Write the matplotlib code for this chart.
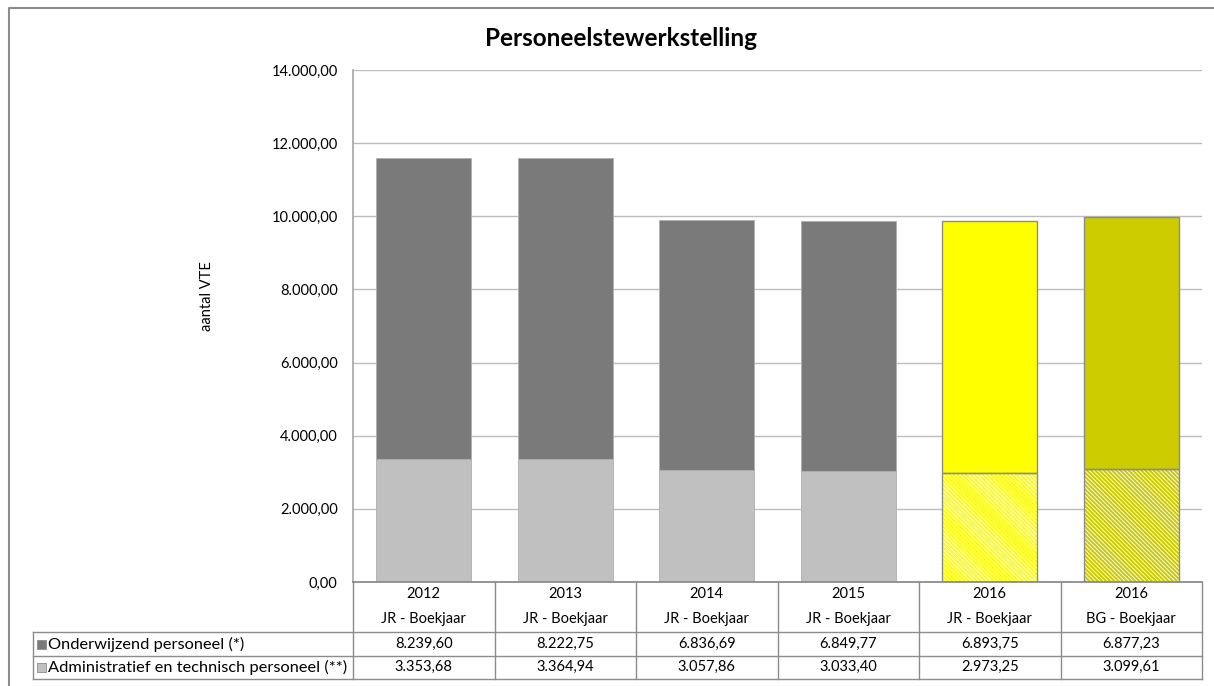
import numpy as np
import matplotlib
matplotlib.use("Agg")
from matplotlib import pyplot as plt

# data
years = ["2012", "2013", "2014", "2015", "2016", "2016"]
kinds = ["JR - Boekjaar", "JR - Boekjaar", "JR - Boekjaar", "JR - Boekjaar", "JR - Boekjaar", "BG - Boekjaar"]
onderwijzend = [8239.60, 8222.75, 6836.69, 6849.77, 6893.75, 6877.23]
administratief = [3353.68, 3364.94, 3057.86, 3033.40, 2973.25, 3099.61]
series_names = ["Onderwijzend personeel (*)", "Administratief en technisch personeel (**)"]

top_colors = ["#7a7a7a", "#7a7a7a", "#7a7a7a", "#7a7a7a", "#ffff00", "#cccc00"]
bottom_colors = ["#c0c0c0", "#c0c0c0", "#c0c0c0", "#c0c0c0", "#ffff00", "#cccc00"]
hatched = [False, False, False, False, True, True]

plt.rcParams['font.family'] = ['Lato', 'DejaVu Sans']
plt.rcParams['hatch.linewidth'] = 1.5

W, H = 1214, 686
fig = plt.figure(figsize=(W / 100, H / 100), dpi=100)


def nl(v):
    s = f"{v:,.2f}"
    return s.replace(",", "X").replace(".", ",").replace("X", ".")


# plot area in pixels
L, R, T, B = 353, 1202, 70, 582
ax = fig.add_axes([L / W, 1 - B / H, (R - L) / W, (B - T) / H])

n = len(years)
x = np.arange(n)
bw = 0.67
for i in range(n):
    if hatched[i]:
        ax.bar(x[i], administratief[i], bw, color="white", edgecolor=bottom_colors[i],
               hatch="\\" * 8, linewidth=0, zorder=3)
        ax.bar(x[i], administratief[i], bw, fill=False, edgecolor="#8c8c8c", linewidth=1, zorder=4)
        ax.bar(x[i], onderwijzend[i], bw, bottom=administratief[i], color=top_colors[i],
               edgecolor="#8c8c8c", linewidth=1, zorder=3)
    else:
        ax.bar(x[i], administratief[i], bw, color=bottom_colors[i], edgecolor="#b0b0b0", linewidth=0.6, zorder=3)
        ax.bar(x[i], onderwijzend[i], bw, bottom=administratief[i], color=top_colors[i],
               edgecolor="#b0b0b0", linewidth=0.6, zorder=3)

ax.set_xlim(-0.5, n - 0.5)
ax.set_ylim(0, 14000)
ax.set_yticks(np.arange(0, 14001, 2000))
ax.set_yticklabels([nl(v) for v in np.arange(0, 14001, 2000)], fontsize=10.5)
ax.tick_params(axis="y", length=0, pad=11)
ax.set_xticks([])
ax.grid(axis="y", color="#bdbdbd", linewidth=1, zorder=0)
for s in ["top", "right", "bottom"]:
    ax.spines[s].set_visible(False)
ax.spines["left"].set_color("#a6a6a6")
ax.spines["left"].set_linewidth(1.2)

# overlay for table, title, frame (pixel coordinates)
ov = fig.add_axes([0, 0, 1, 1], zorder=5)
ov.set_xlim(0, W)
ov.set_ylim(H, 0)
ov.axis("off")
ov.patch.set_alpha(0)

# chart frame
ov.plot([9, 9, W], [H, 8, 8], color="#8c8c8c", lw=1.5)

ov.text(621, 38, "Personeelstewerkstelling", ha="center", va="center", fontsize=17.5, fontweight="bold")
ov.text(207, 296, "aantal VTE", rotation=90, ha="center", va="center", fontsize=10.5)

lc = "#8c8c8c"
colw = (R - L) / n
# horizontal lines
ov.plot([L, R], [582, 582], color=lc, lw=1.3)
ov.plot([33, R], [632, 632], color=lc, lw=1)
ov.plot([33, R], [656, 656], color=lc, lw=1)
ov.plot([33, R], [679, 679], color=lc, lw=1)
# vertical lines
for i in range(n + 1):
    ov.plot([L + i * colw] * 2, [582, 679], color=lc, lw=1)
ov.plot([33, 33], [632, 679], color=lc, lw=1)

for i in range(n):
    cx = L + (i + 0.5) * colw
    ov.text(cx, 594, years[i], ha="center", va="center", fontsize=10.5)
    ov.text(cx, 619, kinds[i], ha="center", va="center", fontsize=10.5)
    ov.text(cx, 644, nl(onderwijzend[i]), ha="center", va="center", fontsize=10.5)
    ov.text(cx, 667, nl(administratief[i]), ha="center", va="center", fontsize=10.5)

legend_cols = ["#7a7a7a", "#c0c0c0"]
for j, (name, yc) in enumerate(zip(series_names, [644, 667])):
    ov.add_patch(plt.Rectangle((37, yc - 4.5), 9, 9, facecolor=legend_cols[j], edgecolor="#8c8c8c", lw=0.6))
    ov.text(48, yc, name, ha="left", va="center", fontsize=11.8)

fig.savefig("out.png", dpi=100)
